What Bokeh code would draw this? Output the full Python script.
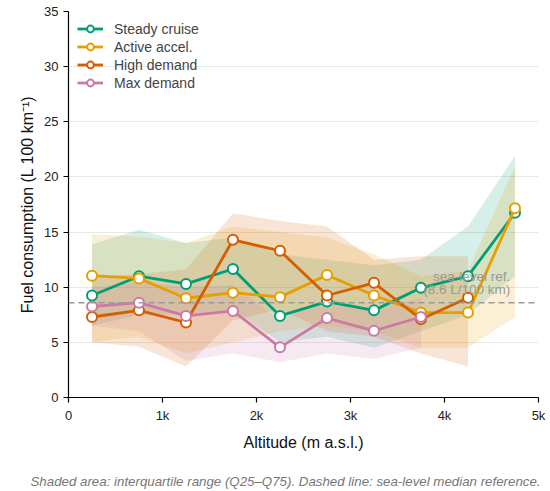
from bokeh.plotting import figure
from bokeh.models import ColumnDataSource, Span, Label, Title, FixedTicker, Legend, LegendItem
from bokeh.embed import file_html
from bokeh.resources import INLINE

altitude = [250, 750, 1250, 1750, 2250, 2750, 3250, 3750, 4250, 4750]
tick_values = [0, 1000, 2000, 3000, 4000, 5000]
tick_labels = ["0", "1k", "2k", "3k", "4k", "5k"]

steady = [9.25, 11.0, 10.3, 11.65, 7.4, 8.7, 7.9, 9.95, 11.0, 16.75]
steady_q25 = [6.5, 7.5, 7.5, 8.0, 5.0, 5.5, 4.5, 6.0, 7.5, 11.0]
steady_q75 = [13.9, 15.2, 14.0, 14.5, 13.0, 12.5, 12.0, 12.5, 15.5, 21.9]

accel = [11.05, 10.8, 9.0, 9.5, 9.1, 11.1, 9.25, 7.7, 7.7, 17.15]
accel_q25 = [5.0, 5.5, 4.0, 5.0, 6.0, 6.5, 6.0, 4.5, 4.5, 7.3]
accel_q75 = [14.8, 14.6, 14.0, 15.5, 15.0, 14.5, 13.0, 11.0, 11.5, 21.0]

high = [7.3, 7.9, 6.8, 14.3, 13.3, 9.25, 10.4, 7.1, 9.05]
high_q25 = [5.0, 4.6, 2.8, 7.0, 8.0, 6.0, 5.5, 4.0, 2.8]
high_q75 = [11.0, 11.2, 11.6, 16.7, 16.0, 15.5, 12.5, 12.8, 12.8]

maxd = [8.25, 8.6, 7.4, 7.85, 4.55, 7.2, 6.05, 7.3]
maxd_q25 = [6.5, 6.0, 3.3, 4.0, 3.2, 4.0, 3.5, 4.5]
maxd_q75 = [10.0, 10.5, 10.0, 10.2, 7.0, 9.0, 8.0, 9.0]

sea_level_ref = 8.6

series = [
    ("Steady cruise", steady, steady_q25, steady_q75, "#009E73"),
    ("Active accel.", accel, accel_q25, accel_q75, "#E69F00"),
    ("High demand", high, high_q25, high_q75, "#D55E00"),
    ("Max demand", maxd, maxd_q25, maxd_q75, "#CC79A7"),
]

FONT = "Liberation Sans"

p = figure(frame_width=470, frame_height=386, x_range=(0, 5000), y_range=(0, 35),
           output_backend="svg", toolbar_location=None,
           min_border_left=68, min_border_top=11, min_border_bottom=60, min_border_right=10)
p.outline_line_color = None
p.xgrid.grid_line_color = None
p.ygrid.grid_line_color = "#e8e8e8"
p.ygrid.grid_line_width = 1

for ax in (p.xaxis[0], p.yaxis[0]):
    ax.axis_line_color = "black"
    ax.axis_line_width = 1.2
    ax.major_tick_line_color = "black"
    ax.major_tick_line_width = 1.2
    ax.major_tick_out = 5
    ax.major_tick_in = 0
    ax.minor_tick_line_color = None
    ax.major_label_text_font = FONT
    ax.major_label_text_font_size = "13px"
    ax.major_label_text_color = "#222222"
    ax.axis_label_text_font = FONT
    ax.axis_label_text_font_size = "16px"
    ax.axis_label_text_font_style = "normal"
    ax.axis_label_text_color = "#111111"

p.xaxis.ticker = FixedTicker(ticks=tick_values)
p.xaxis.major_label_overrides = {v: l for v, l in zip(tick_values, tick_labels)}
p.xaxis.axis_label_standoff = 8
p.yaxis.ticker = FixedTicker(ticks=[0, 5, 10, 15, 20, 25, 30, 35])
p.xaxis.axis_label = "Altitude (m a.s.l.)"
p.yaxis.axis_label = "Fuel consumption (L 100 km\u207b\u00b9)"

# bands
for name, vals, lo, hi, col in series:
    n = len(vals)
    p.varea(x=altitude[:n], y1=lo, y2=hi, fill_color=col, fill_alpha=0.16)

p.add_layout(Span(location=sea_level_ref, dimension="width", line_color="#999999",
                  line_width=1.5, line_dash="6 4"))
p.add_layout(Label(x=4700, y=sea_level_ref + 2.4, text="sea-level ref.", text_align="right",
                   text_baseline="middle",
                   text_font=FONT, text_font_size="13.5px", text_color="#999999"))
p.add_layout(Label(x=4700, y=sea_level_ref + 1.15, text="(8.6 L/100 km)", text_align="right",
                   text_baseline="middle",
                   text_font=FONT, text_font_size="13.5px", text_color="#999999"))

items = []
for name, vals, lo, hi, col in series:
    n = len(vals)
    src = ColumnDataSource(dict(x=altitude[:n], y=vals))
    r1 = p.line("x", "y", source=src, line_color=col, line_width=2.8)
    r2 = p.scatter("x", "y", source=src, size=10, fill_color="white", line_color=col, line_width=2)
    items.append(LegendItem(label=name, renderers=[r1, r2]))

legend = Legend(items=items, location="top_left", border_line_color=None,
                background_fill_alpha=0, label_text_font=FONT, label_text_font_size="14px",
                label_height=17, glyph_height=17, glyph_width=26, spacing=1, padding=5,
                margin=9, label_standoff=11)
p.add_layout(legend)

note = Title(text="Shaded area: interquartile range (Q25\u2013Q75). Dashed line: sea-level median reference.",
             align="left", text_font=FONT, text_font_size="13.3px", text_font_style="italic",
             text_color="#777777", standoff=36, offset=-38)
p.add_layout(note, "below")

open("out.html", "w").write(file_html(p, INLINE))
